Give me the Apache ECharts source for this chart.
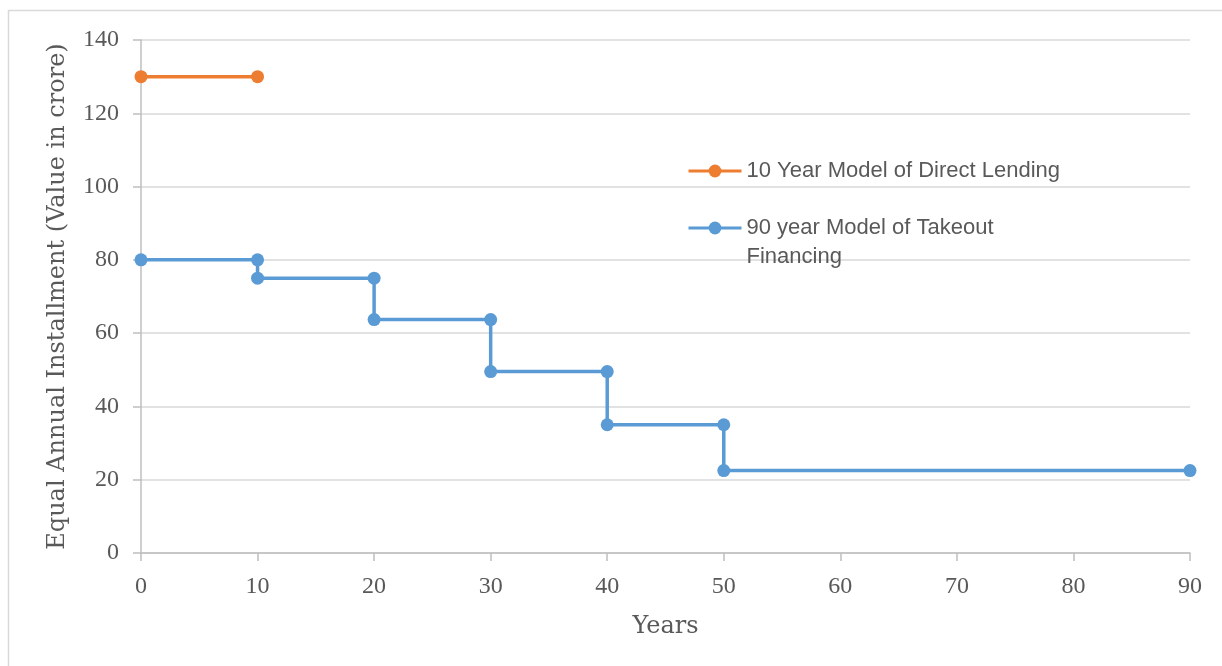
<!DOCTYPE html>
<html>
<head>
<meta charset="utf-8">
<script src="https://cdn.jsdelivr.net/npm/echarts@6/dist/echarts.min.js"></script>
<style>
html,body{margin:0;padding:0;background:#fff;}
#chart{width:1222px;height:666px;}
</style>
</head>
<body>
<div id="chart"></div>
<script>
// Data
var directName = '10 Year Model of Direct Lending';
var takeoutName = '90 year Model of Takeout Financing';
var directYears = [0, 10];
var directValues = [130, 130];
var takeoutYears = [0, 10, 10, 20, 20, 30, 30, 40, 40, 50, 50, 90];
var takeoutValues = [80, 80, 75, 75, 63.7, 63.7, 49.5, 49.5, 35, 35, 22.5, 22.5];
var xTitle = 'Years';
var yTitle = 'Equal Annual Installment (Value in crore)';

function pairs(xs, ys) {
  return xs.map(function (x, i) { return [x, ys[i]]; });
}

var chart = echarts.init(document.getElementById('chart'));
var serif = '"Liberation Serif", "DejaVu Serif", serif';
var titleSerif = '"DejaVu Serif", "Liberation Serif", serif';
var sans = '"Liberation Sans", "Noto Sans", sans-serif';

var legendCommon = {
  left: 687, padding: 0,
  itemWidth: 53, itemHeight: 16, itemGap: 5,
  lineStyle: { width: 3 },
  textStyle: { fontFamily: sans, fontSize: 22, color: '#595959', lineHeight: 29 }
};

chart.setOption({
  animation: false,
  backgroundColor: '#ffffff',
  graphic: [{
    type: 'rect',
    shape: { x: 8.5, y: 10.5, width: 1220, height: 700 },
    style: { fill: 'none', stroke: '#d9d9d9', lineWidth: 1.5 },
    silent: true, z: -1
  }],
  grid: { left: 141, right: 32, top: 40, bottom: 113 },
  legend: [
    Object.assign({}, legendCommon, { data: [directName], top: 156.5 }),
    Object.assign({}, legendCommon, {
      data: [takeoutName], top: 184.5,
      formatter: function (n) { return '\n' + n.replace('Takeout ', 'Takeout\n'); }
    })
  ],
  xAxis: {
    type: 'value', min: 0, max: 90, interval: 10,
    name: xTitle, nameLocation: 'middle', nameGap: 62,
    nameTextStyle: { fontFamily: titleSerif, fontSize: 24, color: '#595959' },
    axisLine: { show: true, lineStyle: { color: '#bfbfbf', width: 1.5 } },
    axisTick: { show: true, length: 8, lineStyle: { color: '#bfbfbf', width: 1.5 } },
    axisLabel: { fontFamily: serif, fontSize: 24, color: '#595959', margin: 22 },
    splitLine: { show: false }
  },
  yAxis: {
    type: 'value', min: 0, max: 140, interval: 20,
    name: yTitle, nameLocation: 'middle', nameGap: 71, nameRotate: 90,
    nameTextStyle: { fontFamily: titleSerif, fontSize: 24, color: '#595959' },
    axisLine: { show: true, lineStyle: { color: '#bfbfbf', width: 1.5 } },
    axisTick: { show: true, length: 8, lineStyle: { color: '#bfbfbf', width: 1.5 } },
    axisLabel: { fontFamily: serif, fontSize: 24, color: '#595959', margin: 22 },
    splitLine: { show: true, lineStyle: { color: '#d9d9d9', width: 1.5 } }
  },
  series: [{
    name: directName, type: 'line',
    data: pairs(directYears, directValues),
    color: '#ED7D31',
    lineStyle: { width: 3.5, color: '#ED7D31' },
    symbol: 'circle', symbolSize: 13,
    itemStyle: { color: '#ED7D31' }
  }, {
    name: takeoutName, type: 'line',
    data: pairs(takeoutYears, takeoutValues),
    color: '#5B9BD5',
    lineStyle: { width: 3.5, color: '#5B9BD5' },
    symbol: 'circle', symbolSize: 13,
    itemStyle: { color: '#5B9BD5' }
  }]
});
</script>
</body>
</html>
